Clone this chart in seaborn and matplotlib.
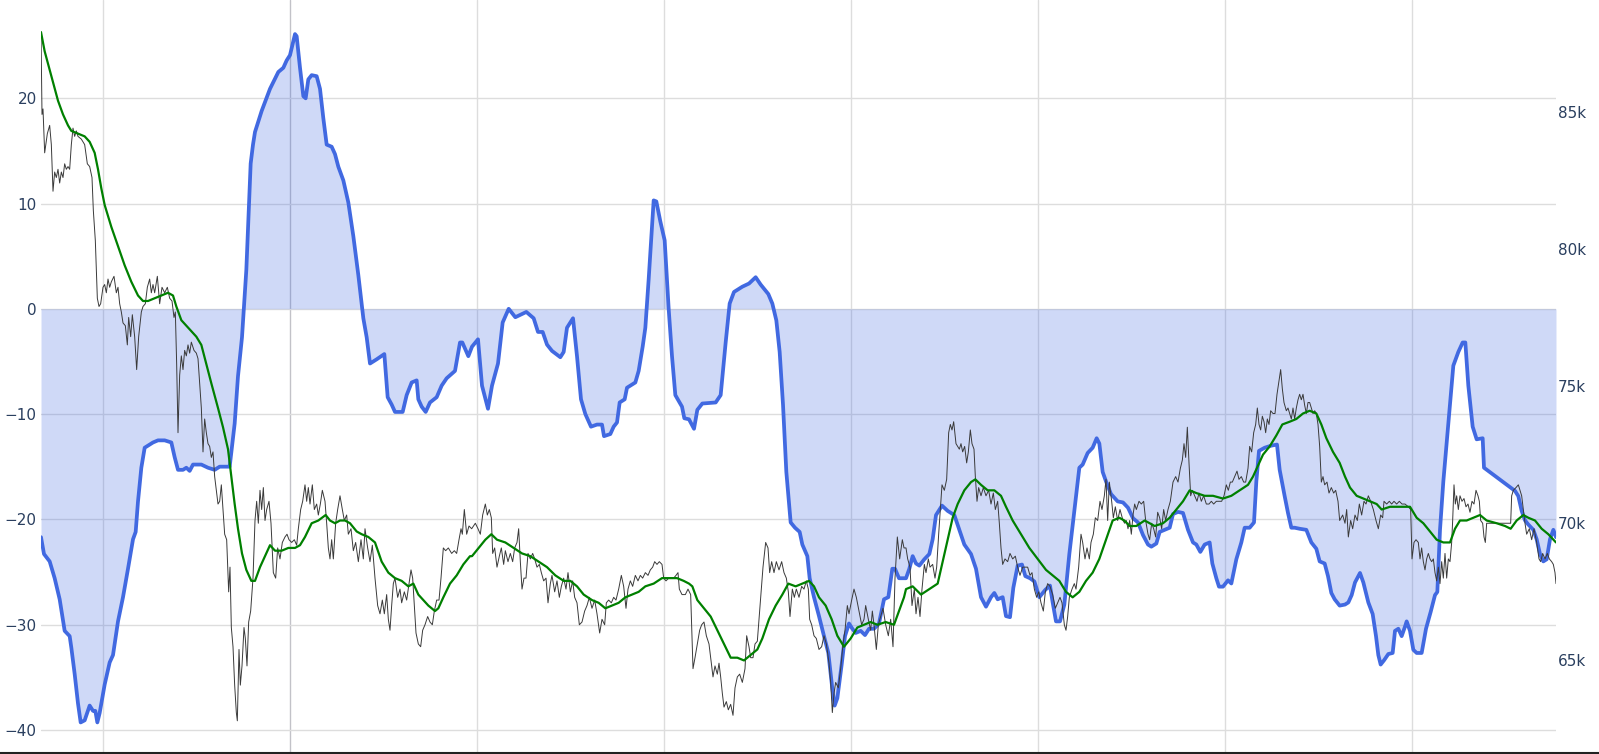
import matplotlib
matplotlib.use("Agg")
import matplotlib.pyplot as plt
import seaborn as sns
import numpy as np

# ---------------- data ----------------
# time index (arbitrary sampling ticks, one day = 561 ticks)
blue_t = [
    0, 9, 26, 41, 56, 71, 86, 91, 101, 111,
    119, 131, 146, 156, 163, 169, 176, 191, 206, 216,
    231, 246, 261, 276, 284, 291, 301, 311, 321, 336,
    351, 371, 391, 401, 411, 426, 436, 446, 456, 481,
    501, 521, 536, 551, 566, 581, 591, 603, 616, 629,
    636,
    642, 662, 687, 712, 727, 737, 747, 762, 767, 777,
    787, 794, 802, 812, 827, 837, 847, 857, 872, 882,
    892, 907, 922, 937, 952, 967, 977, 987, 1007, 1030,
    1040, 1052, 1062, 1085, 1097, 1112, 1127, 1132, 1142, 1154,
    1167, 1187, 1202, 1217, 1242, 1257, 1264, 1282,
    1293, 1311, 1323, 1341, 1353, 1371, 1385, 1403, 1423, 1456,
    1478, 1491, 1505, 1518, 1533, 1558, 1568, 1578, 1596, 1608,
    1620, 1633, 1650, 1668, 1683, 1689, 1708, 1718, 1728, 1736,
    1751, 1758, 1783, 1793, 1805, 1813, 1823, 1838, 1846, 1858,
    1871, 1883, 1893, 1903, 1923, 1930,
    1944, 1959, 1969, 1984, 2024, 2039, 2054, 2066, 2079, 2104,
    2124, 2144, 2159, 2182, 2194, 2206, 2216, 2226, 2236, 2249,
    2262, 2276, 2284, 2299, 2306, 2319, 2334, 2349, 2362, 2374,
    2381, 2389, 2402, 2412, 2424, 2434, 2444, 2459, 2472, 2484,
    2499, 2514, 2529, 2542, 2554, 2562, 2574,
    2595, 2605, 2615, 2625, 2635, 2650, 2665, 2675, 2685, 2703,
    2720, 2740, 2755, 2770, 2790, 2805, 2820, 2835, 2850, 2860,
    2870, 2885, 2895, 2907, 2917, 2930, 2943, 2953, 2967, 2980,
    2995, 3013, 3027, 3035, 3045, 3057, 3070, 3085, 3100, 3115,
    3125, 3140, 3155, 3167, 3175, 3185, 3195, 3210, 3230,
    3246, 3261, 3276, 3291, 3306, 3321, 3331, 3346, 3356, 3371,
    3386, 3396, 3411, 3426, 3441, 3456, 3466, 3478, 3491, 3506,
    3514, 3526, 3534, 3546, 3561, 3571, 3586, 3601, 3611, 3626,
    3639, 3646, 3654, 3671, 3691, 3708, 3716, 3731, 3741, 3751,
    3761, 3776, 3796, 3811, 3826, 3836, 3851, 3861, 3871, 3881,
    3896,
    3912, 3922, 3932, 3942, 3957, 3967, 3982, 3995, 4005, 4012,
    4019, 4029, 4042, 4055, 4062, 4072, 4082, 4092, 4097, 4107,
    4117, 4127, 4142, 4155, 4169, 4182, 4189, 4197, 4207, 4222,
    4237, 4252, 4265, 4273, 4282, 4295, 4307, 4325, 4329, 4422,
    4432, 4442, 4452, 4462, 4477, 4487, 4497, 4507, 4517, 4527,
    4537, 4545,
]
blue_v = [
    -21.7, -23.3, -24.0, -25.6, -27.6, -30.6, -31.1, -32.2, -34.7, -37.5,
    -39.3, -39.1, -37.7, -38.2, -38.2, -39.3, -38.4, -35.7, -33.6, -32.9,
    -29.7, -27.4, -24.7, -21.9, -21.2, -18.3, -15.1, -13.2, -13.0, -12.7,
    -12.5, -12.5, -12.7, -14.1, -15.3, -15.3, -15.1, -15.4, -14.8, -14.8,
    -15.1, -15.3, -15.0, -15.0, -15.0, -10.9, -6.4, -2.7, 3.7, 13.8,
    15.6,
    16.8, 18.8, 20.9, 22.5, 22.9, 23.6, 24.1, 26.1, 25.9, 22.9,
    20.2, 20.0, 21.8, 22.2, 22.1, 20.9, 18.1, 15.6, 15.4, 14.7,
    13.5, 12.2, 10.1, 6.9, 3.2, -0.9, -2.7, -5.2, -4.8, -4.3,
    -8.4, -9.1, -9.8, -9.8, -8.2, -7.0, -6.8, -8.6, -9.3, -9.8,
    -8.9, -8.4, -7.3, -6.6, -5.9, -3.2, -3.2, -4.5,
    -3.6, -2.9, -7.3, -9.5, -7.3, -5.2, -1.3, 0.0, -0.8, -0.3,
    -0.9, -2.2, -2.2, -3.4, -4.0, -4.6, -4.1, -1.8, -0.9, -4.5,
    -8.6, -10.0, -11.2, -11.0, -11.0, -12.1, -11.9, -11.2, -10.8, -8.9,
    -8.6, -7.5, -7.0, -5.9, -3.6, -1.8, 2.8, 10.3, 10.2, 8.3,
    6.5, 0.0, -4.5, -8.2, -9.3, -10.4,
    -10.5, -11.4, -9.6, -9.0, -8.9, -8.2, -3.2, 0.5, 1.6, 2.1,
    2.4, 3.0, 2.3, 1.4, 0.5, -1.1, -4.1, -9.1, -15.5, -20.3,
    -20.8, -21.2, -22.4, -23.5, -25.6, -27.4, -29.2, -31.1, -32.7, -36.1,
    -37.7, -37.0, -33.8, -31.1, -29.9, -30.4, -30.8, -30.6, -31.0, -30.4,
    -30.4, -29.9, -27.6, -27.4, -24.7, -24.7, -25.6,
    -25.6, -24.7, -23.5, -24.2, -24.4, -23.8, -23.3, -21.9, -19.6, -18.7,
    -19.2, -19.6, -21.0, -22.4, -23.3, -24.7, -27.4, -28.3, -27.4, -27.0,
    -27.6, -27.4, -29.2, -29.3, -26.5, -24.4, -24.3, -25.4, -25.6, -25.9,
    -27.4, -26.7, -26.3, -27.9, -29.7, -29.7, -28.1, -23.3, -19.2, -15.1,
    -14.8, -13.7, -13.2, -12.3, -12.8, -15.5, -16.4, -17.6, -18.3,
    -18.4, -18.9, -19.9, -20.3, -21.5, -22.4, -22.6, -22.3, -21.2, -21.0,
    -20.8, -19.5, -19.3, -19.4, -21.0, -22.2, -22.4, -23.1, -22.4, -22.2,
    -24.2, -25.6, -26.4, -26.4, -25.8, -26.1, -23.8, -22.2, -20.8, -20.8,
    -20.3, -16.4, -13.5, -13.2, -13.0, -12.9, -15.3, -17.8, -19.4, -20.8,
    -20.8, -20.9, -21.0, -22.2, -22.8, -24.0, -24.2, -25.4, -27.0, -27.6,
    -28.2,
    -28.1, -27.9, -27.2, -26.0, -25.1, -26.0, -27.9, -29.0, -31.1, -32.9,
    -33.8, -33.4, -32.8, -32.7, -30.6, -30.4, -31.1, -30.2, -29.7, -30.6,
    -32.4, -32.7, -32.7, -30.4, -28.8, -27.2, -26.9, -21.0, -16.4, -10.9,
    -5.4, -4.1, -3.2, -3.2, -7.3, -11.2, -12.4, -12.3, -15.1, -17.3,
    -17.8, -19.2, -20.1, -20.5, -21.0, -21.9, -23.3, -24.0, -23.8, -21.9,
    -21.0, -21.7,
]

# moving average of price (thousands)
ma_t = [
    0, 11, 31, 51, 66, 81, 91, 111, 131, 146,
    161, 171, 181, 191, 211, 231, 251, 271, 291, 306,
    321, 341, 361, 381, 396, 406, 421, 436, 451, 466,
    481, 496, 511, 531, 546, 561, 571, 581, 591, 603,
    616, 631,
    642, 657, 672, 687, 702, 722, 742, 762, 777, 792,
    812, 832, 854, 867, 882, 897, 912, 927, 947, 962,
    982, 1002, 1022, 1042, 1062, 1082, 1102, 1117, 1132, 1147,
    1162, 1182, 1192, 1207, 1227, 1247, 1267, 1287,
    1293, 1313, 1333, 1351, 1368, 1393, 1418, 1443, 1468, 1493,
    1518, 1543, 1568, 1588, 1608, 1628, 1653, 1673, 1693, 1713,
    1733, 1753, 1773, 1793, 1813, 1838, 1863, 1883, 1908, 1928,
    1944, 1954, 1969, 1989, 2009, 2029, 2049, 2069, 2089, 2109,
    2129, 2149, 2164, 2184, 2204, 2224, 2242, 2264, 2284, 2304,
    2319, 2334, 2354, 2372, 2389, 2409, 2429, 2449, 2469, 2489,
    2509, 2534, 2559, 2574, 2589,
    2595, 2615, 2640, 2665, 2690, 2705, 2720, 2735, 2750, 2770,
    2790, 2803, 2820, 2840, 2860, 2880, 2895, 2915, 2940, 2965,
    2990, 3015, 3035, 3055, 3075, 3095, 3115, 3135, 3155, 3175,
    3195, 3215, 3235,
    3250, 3266, 3286, 3311, 3341, 3366, 3386, 3406, 3426, 3446,
    3466, 3491, 3516, 3546, 3571, 3596, 3621, 3636, 3651, 3666,
    3686, 3706, 3724, 3746, 3766, 3786, 3806, 3826, 3841, 3856,
    3876, 3896,
    3912, 3927, 3947, 3967, 3987, 4007, 4022, 4047, 4072, 4087,
    4107, 4127, 4147, 4167, 4187, 4207, 4227, 4242, 4257, 4277,
    4297, 4317, 4337, 4367, 4392, 4409, 4427, 4447, 4462, 4482,
    4502, 4522, 4545,
]
ma_v = [
    87.9, 87.2, 86.3, 85.4, 84.9, 84.5, 84.3, 84.2, 84.1, 83.9,
    83.5, 82.9, 82.2, 81.6, 80.8, 80.1, 79.4, 78.8, 78.3, 78.1,
    78.1, 78.2, 78.3, 78.4, 78.3, 77.9, 77.4, 77.2, 77.0, 76.8,
    76.5, 75.8, 75.1, 74.2, 73.5, 72.7, 71.7, 70.7, 69.8, 68.9,
    68.3, 67.9,
    67.9, 68.4, 68.8, 69.2, 69.0, 69.0, 69.1, 69.1, 69.2, 69.5,
    70.0, 70.1, 70.3, 70.1, 70.0, 70.1, 70.1, 70.0, 69.7, 69.6,
    69.5, 69.3, 68.6, 68.2, 68.0, 67.9, 67.7, 67.8, 67.4, 67.2,
    67.0, 66.8, 66.9, 67.3, 67.8, 68.1, 68.5, 68.8,
    68.8, 69.1, 69.4, 69.6, 69.4, 69.3, 69.1, 68.9, 68.8, 68.6,
    68.4, 68.1, 67.9, 67.9, 67.7, 67.4, 67.2, 67.1, 66.9, 67.0,
    67.1, 67.3, 67.4, 67.5, 67.7, 67.8, 68.0, 68.0, 68.0, 67.9,
    67.8, 67.7, 67.2, 66.9, 66.6, 66.1, 65.6, 65.1, 65.1, 65.0,
    65.2, 65.4, 65.8, 66.5, 67.0, 67.4, 67.8, 67.7, 67.8, 67.9,
    67.7, 67.3, 67.0, 66.5, 65.9, 65.5, 65.8, 66.2, 66.3, 66.4,
    66.3, 66.4, 66.3, 66.8, 67.3,
    67.6, 67.7, 67.4, 67.6, 67.8, 68.6, 69.4, 70.2, 70.7, 71.2,
    71.5, 71.6, 71.4, 71.2, 71.2, 71.0, 70.6, 70.1, 69.6, 69.1,
    68.7, 68.3, 68.1, 67.9, 67.5, 67.3, 67.5, 67.9, 68.2, 68.7,
    69.4, 70.1, 70.2,
    70.1, 69.9, 69.9, 70.1, 69.9, 70.0, 70.2, 70.5, 70.8, 71.2,
    71.1, 71.0, 71.0, 70.9, 71.0, 71.2, 71.4, 71.7, 72.1, 72.5,
    72.8, 73.2, 73.6, 73.7, 73.8, 74.0, 74.1, 74.0, 73.6, 73.1,
    72.6, 72.2,
    71.7, 71.3, 71.0, 70.9, 70.8, 70.7, 70.5, 70.6, 70.6, 70.6,
    70.6, 70.2, 70.0, 69.7, 69.4, 69.3, 69.3, 69.8, 70.1, 70.1,
    70.2, 70.3, 70.1, 70.0, 69.9, 69.8, 70.1, 70.3, 70.2, 70.1,
    69.8, 69.6, 69.3,
]

# price (thousands): (time, value)
price_pts = [
    (0, 87.9), (3, 84.9), (6, 85.1), (11, 83.5), (19, 84.2), (26, 84.5), (31, 83.8), (36, 82.1), (41, 82.8), (46, 82.6),
    (51, 82.9), (56, 82.4), (61, 82.8), (66, 82.6), (71, 83.1), (76, 82.9), (81, 83.0), (86, 82.9), (91, 83.8), (96, 84.4),
    (101, 84.1), (106, 84.3), (111, 84.1), (121, 84.0), (131, 83.8), (139, 83.1), (146, 83.0), (153, 82.6), (157, 81.4), (163, 80.3),
    (169, 78.2), (174, 77.9), (179, 78.0), (186, 78.6), (191, 78.7), (196, 78.4), (201, 78.9), (206, 78.6), (211, 78.8), (219, 79.0),
    (226, 78.4), (231, 78.6), (236, 78.0), (241, 77.7), (246, 77.3), (253, 77.2), (259, 76.5), (263, 77.5), (269, 76.8), (274, 77.6),
    (281, 76.8), (287, 75.6), (293, 76.8), (301, 77.7), (306, 77.9), (313, 78.0), (319, 78.6), (326, 78.9), (331, 78.4), (336, 78.7),
    (341, 78.4), (349, 79.0), (356, 78.0), (363, 78.6), (371, 78.4), (379, 78.6), (386, 78.2), (393, 78.1), (399, 77.5), (403, 77.7),
    (407, 75.8), (411, 73.3), (416, 75.4), (421, 76.1), (426, 75.6), (431, 76.3), (436, 76.1), (441, 76.5), (446, 76.2), (451, 76.6),
    (459, 76.3), (466, 76.2), (471, 76.0), (476, 75.1), (481, 74.2), (486, 72.6), (491, 73.8), (496, 73.3), (501, 72.9), (506, 72.8),
    (511, 72.4), (516, 72.6), (521, 71.7), (526, 71.2), (531, 70.7), (536, 70.8), (541, 71.4), (546, 70.5), (551, 69.6), (557, 69.4),
    (563, 67.5), (567, 68.4), (571, 66.2), (576, 65.5), (581, 64.1), (586, 63.1), (589, 62.8), (594, 65.4), (598, 64.1), (603, 64.8),
    (609, 66.2), (613, 65.8), (618, 64.8), (623, 66.4), (629, 66.8), (636, 68.0),
    (642, 70.1), (647, 70.8), (652, 70.0), (657, 71.2), (662, 70.5), (667, 71.3), (672, 70.1), (677, 70.5), (684, 70.8), (690, 70.0),
    (697, 68.2), (704, 68.0), (710, 69.1), (717, 68.7), (724, 69.3), (732, 69.5), (738, 69.6), (744, 69.4), (752, 69.3), (760, 69.4),
    (767, 69.2), (772, 69.8), (779, 70.5), (785, 70.8), (792, 71.4), (797, 70.8), (802, 71.3), (807, 70.7), (814, 71.4), (820, 70.5),
    (827, 70.7), (832, 70.3), (838, 70.7), (844, 71.2), (852, 70.8), (857, 70.0), (862, 69.1), (867, 68.7), (872, 69.4), (877, 68.7),
    (884, 70.0), (890, 70.5), (897, 71.0), (904, 70.5), (910, 70.1), (917, 70.3), (922, 69.6), (930, 69.8), (937, 69.0), (944, 69.3),
    (952, 68.6), (960, 69.4), (967, 68.7), (972, 69.8), (980, 69.1), (987, 68.6), (994, 69.2), (1002, 68.0), (1010, 67.0), (1017, 66.7),
    (1024, 67.2), (1030, 66.7), (1037, 67.4), (1042, 66.5), (1047, 66.1), (1052, 67.0), (1057, 67.8), (1062, 68.0), (1070, 67.3), (1077, 67.6),
    (1082, 67.1), (1090, 67.5), (1097, 67.2), (1104, 67.8), (1110, 68.3), (1115, 68.0), (1120, 67.0), (1125, 66.0), (1132, 65.6), (1139, 65.5),
    (1145, 66.1), (1152, 66.3), (1160, 66.6), (1167, 66.4), (1174, 66.3), (1180, 66.8), (1187, 67.2), (1194, 67.2), (1200, 68.0), (1207, 69.1),
    (1214, 69.0), (1222, 69.1), (1232, 68.9), (1240, 69.0), (1247, 68.9), (1254, 69.4), (1260, 69.8), (1264, 69.6), (1270, 70.5), (1277, 69.6),
    (1284, 69.9), (1292, 69.8),
    (1303, 70.0), (1311, 69.8), (1318, 69.6), (1325, 70.3), (1333, 70.7), (1339, 70.3), (1345, 70.5), (1351, 70.2), (1355, 68.9), (1361, 69.1),
    (1368, 68.4), (1375, 68.8), (1381, 69.1), (1388, 68.5), (1393, 69.0), (1401, 68.6), (1408, 68.9), (1415, 68.6), (1421, 69.1), (1428, 69.3),
    (1433, 69.8), (1438, 68.6), (1443, 67.6), (1449, 68.0), (1455, 68.0), (1461, 68.9), (1468, 68.7), (1475, 68.9), (1481, 68.7), (1488, 68.4),
    (1495, 68.5), (1501, 68.2), (1508, 67.9), (1515, 68.0), (1521, 67.1), (1528, 67.8), (1533, 68.1), (1541, 67.5), (1548, 67.9), (1555, 67.3),
    (1561, 67.7), (1568, 68.0), (1575, 67.6), (1581, 68.2), (1588, 67.5), (1595, 67.9), (1601, 67.3), (1608, 67.1), (1615, 66.3), (1623, 66.4),
    (1631, 66.8), (1638, 67.0), (1645, 67.3), (1653, 66.9), (1661, 67.2), (1668, 66.7), (1676, 66.0), (1683, 66.5), (1691, 66.3), (1696, 67.1),
    (1703, 67.2), (1711, 67.1), (1718, 67.3), (1725, 67.2), (1733, 67.6), (1741, 68.1), (1748, 67.7), (1755, 66.9), (1761, 67.6), (1768, 67.9),
    (1775, 67.7), (1783, 68.1), (1791, 67.9), (1798, 68.1), (1805, 68.0), (1813, 68.2), (1821, 68.1), (1828, 68.3), (1835, 68.4), (1841, 68.6),
    (1848, 68.5), (1855, 68.6), (1863, 68.5), (1868, 68.0), (1875, 67.9), (1883, 68.0), (1891, 68.0), (1898, 68.0), (1905, 68.1), (1911, 68.2),
    (1915, 67.6), (1923, 67.4), (1933, 67.4), (1941, 67.6),
    (1949, 67.4), (1956, 64.7), (1962, 65.1), (1969, 65.6), (1976, 66.1), (1982, 66.3), (1989, 66.4), (1996, 65.9), (2004, 65.6), (2009, 65.1),
    (2016, 64.4), (2022, 64.8), (2029, 64.5), (2034, 64.9), (2039, 64.4), (2044, 63.8), (2049, 63.3), (2056, 63.5), (2062, 63.2), (2069, 63.4),
    (2076, 63.0), (2082, 64.0), (2089, 64.4), (2096, 64.5), (2104, 64.2), (2112, 64.7), (2117, 65.9), (2124, 65.5), (2129, 65.1), (2136, 65.1),
    (2142, 65.6), (2149, 65.7), (2154, 66.5), (2160, 67.5), (2166, 68.4), (2174, 69.3), (2181, 69.1), (2186, 68.2), (2192, 68.6), (2199, 68.2),
    (2206, 68.6), (2214, 68.3), (2222, 68.6), (2229, 68.2), (2236, 68.0), (2242, 67.5), (2247, 66.6), (2254, 67.6), (2260, 67.3), (2266, 67.6),
    (2274, 67.3), (2282, 67.7), (2289, 67.6), (2296, 67.9), (2302, 67.6), (2306, 66.5), (2312, 66.3), (2319, 65.9), (2326, 65.8), (2334, 65.4),
    (2342, 65.5), (2349, 65.9), (2356, 65.6), (2364, 64.9), (2369, 64.2), (2374, 63.1), (2379, 63.8), (2384, 64.2), (2392, 64.0), (2399, 64.7),
    (2406, 65.6), (2412, 66.1), (2419, 67.0), (2424, 66.7), (2432, 67.2), (2439, 67.6), (2446, 67.3), (2454, 66.8), (2462, 66.3), (2469, 66.5),
    (2474, 67.0), (2482, 66.5), (2489, 66.1), (2494, 66.8), (2499, 66.3), (2506, 65.4), (2512, 66.3), (2519, 66.6), (2526, 66.9), (2534, 66.3),
    (2542, 65.9), (2549, 66.5), (2556, 65.5), (2562, 68.0), (2569, 69.5), (2576, 68.7), (2584, 69.4), (2589, 69.1),
    (2595, 69.1), (2600, 68.7), (2607, 68.4), (2613, 67.0), (2620, 67.6), (2625, 66.7), (2631, 67.3), (2637, 66.6), (2643, 67.6), (2650, 68.5),
    (2655, 68.2), (2662, 68.7), (2667, 68.4), (2675, 68.5), (2682, 68.0), (2687, 68.4), (2693, 69.6), (2698, 70.5), (2703, 71.4), (2710, 71.2),
    (2717, 71.6), (2723, 73.3), (2728, 73.6), (2733, 73.4), (2738, 73.7), (2745, 72.9), (2750, 72.8), (2755, 72.7), (2760, 72.9), (2765, 72.6),
    (2771, 72.8), (2777, 72.2), (2782, 72.6), (2788, 73.4), (2793, 72.9), (2799, 72.7), (2803, 71.7), (2808, 70.8), (2813, 71.3), (2820, 71.0),
    (2827, 71.3), (2835, 71.0), (2843, 71.2), (2850, 70.7), (2857, 71.1), (2863, 70.5), (2870, 70.8), (2875, 70.0), (2880, 69.1), (2885, 68.5),
    (2892, 68.7), (2900, 68.6), (2907, 68.9), (2915, 68.7), (2923, 68.8), (2930, 68.4), (2937, 68.1), (2945, 68.4), (2953, 68.4), (2960, 68.4),
    (2967, 68.1), (2973, 68.2), (2980, 67.6), (2987, 67.3), (2993, 67.5), (3000, 67.1), (3007, 66.8), (3013, 67.5), (3020, 67.8), (3027, 67.7),
    (3035, 67.4), (3043, 66.9), (3050, 67.1), (3057, 67.3), (3063, 67.1), (3070, 66.3), (3075, 66.1), (3080, 66.6), (3085, 67.3), (3093, 67.6),
    (3100, 67.8), (3105, 67.6), (3113, 68.4), (3120, 69.6), (3125, 69.3), (3132, 68.7), (3138, 69.1), (3145, 68.7), (3150, 69.3), (3157, 69.6),
    (3163, 70.2), (3170, 70.1), (3177, 70.8), (3183, 70.5), (3190, 71.0), (3195, 71.6), (3200, 70.1), (3205, 71.5), (3212, 70.8), (3217, 70.2),
    (3223, 70.6), (3230, 70.1), (3237, 70.5),
    (3246, 70.1), (3251, 70.0), (3256, 70.1), (3261, 69.8), (3266, 70.1), (3271, 69.6), (3276, 70.3), (3281, 70.7), (3286, 70.5), (3294, 70.8),
    (3301, 70.7), (3308, 70.8), (3314, 70.1), (3321, 69.6), (3326, 69.4), (3332, 70.0), (3338, 69.8), (3344, 69.5), (3350, 70.4), (3356, 70.2),
    (3362, 69.8), (3368, 70.5), (3374, 70.1), (3381, 70.5), (3388, 70.8), (3396, 71.5), (3404, 71.7), (3411, 71.5), (3418, 72.0), (3424, 72.3),
    (3429, 72.9), (3434, 72.4), (3439, 73.5), (3444, 72.2), (3449, 71.0), (3454, 71.2), (3461, 71.0), (3468, 70.8), (3474, 71.1), (3481, 70.8),
    (3488, 71.0), (3496, 70.7), (3504, 70.7), (3511, 70.8), (3518, 70.7), (3526, 70.8), (3534, 70.8), (3542, 70.8), (3549, 71.0), (3556, 71.4),
    (3562, 71.2), (3568, 71.5), (3574, 71.5), (3581, 71.7), (3588, 71.9), (3594, 71.6), (3601, 71.7), (3608, 71.5), (3614, 71.5), (3621, 72.0),
    (3626, 72.8), (3632, 72.6), (3638, 73.3), (3644, 73.6), (3649, 74.2), (3654, 73.6), (3659, 73.4), (3664, 73.9), (3669, 73.7), (3674, 73.3),
    (3679, 73.8), (3684, 73.6), (3689, 74.1), (3696, 74.0), (3702, 74.0), (3708, 74.7), (3714, 75.2), (3719, 75.6), (3724, 74.9), (3729, 74.4),
    (3736, 74.1), (3741, 74.2), (3746, 74.0), (3751, 73.8), (3756, 74.2), (3761, 73.8), (3766, 74.2), (3771, 74.5), (3776, 74.7), (3781, 74.5),
    (3786, 74.7), (3791, 74.3), (3796, 74.0), (3801, 74.4), (3806, 74.4), (3811, 74.2), (3816, 74.0), (3821, 74.1), (3826, 74.0), (3831, 73.6),
    (3836, 72.8), (3841, 71.5), (3846, 71.7), (3851, 71.4), (3858, 71.5), (3864, 71.1), (3871, 71.3), (3878, 71.1), (3884, 71.2), (3891, 70.8),
    (3896, 70.1),
    (3905, 70.3), (3912, 70.0), (3917, 70.5), (3922, 69.5), (3929, 70.1), (3935, 69.8), (3942, 70.3), (3949, 70.1), (3955, 70.7), (3962, 70.3),
    (3969, 70.8), (3975, 70.7), (3982, 71.0), (3989, 70.8), (3997, 70.5), (4005, 70.1), (4012, 69.8), (4019, 70.3), (4025, 70.2), (4029, 70.8),
    (4037, 70.7), (4045, 70.8), (4052, 70.7), (4059, 70.8), (4067, 70.7), (4075, 70.8), (4083, 70.7), (4092, 70.7), (4102, 70.6), (4109, 70.5),
    (4113, 68.7), (4119, 69.3), (4125, 69.4), (4132, 69.3), (4137, 68.7), (4142, 69.1), (4147, 68.6), (4152, 68.3), (4157, 68.7), (4162, 68.9),
    (4167, 68.7), (4172, 68.6), (4177, 68.7), (4182, 68.2), (4187, 67.9), (4192, 68.4), (4197, 67.8), (4202, 68.6), (4207, 68.0), (4212, 68.9),
    (4217, 68.0), (4222, 68.7), (4227, 68.6), (4232, 69.3), (4235, 70.1), (4239, 71.4), (4243, 70.7), (4247, 71.0), (4252, 70.5), (4257, 71.0),
    (4263, 70.8), (4269, 70.9), (4275, 70.6), (4281, 70.7), (4287, 70.4), (4293, 70.8), (4299, 70.7), (4305, 71.2), (4311, 71.0), (4315, 70.8),
    (4319, 70.1), (4325, 70.0), (4329, 69.5), (4333, 69.3), (4337, 70.0), (4409, 70.0), (4412, 71.0), (4417, 71.2), (4425, 71.3), (4432, 71.4),
    (4437, 71.2), (4442, 71.0), (4447, 70.5), (4452, 70.0), (4457, 69.6), (4465, 69.8), (4472, 69.4), (4479, 69.8), (4487, 69.3), (4494, 68.7),
    (4499, 68.6), (4505, 68.9), (4512, 68.7), (4519, 68.9), (4525, 68.7), (4532, 68.6), (4537, 68.5), (4542, 68.2), (4545, 67.8),
]

left_ticks = [-40, -30, -20, -10, 0, 10, 20]
right_ticks = [65, 70, 75, 80, 85]
right_labels = ["65k", "70k", "75k", "80k", "85k"]

# ---------------- styling ----------------
sns.set_theme(style="white")
plt.rcParams["font.family"] = ["DejaVu Sans"]
plt.rcParams["axes.unicode_minus"] = True

TICK_COLOR = "#2a3f5f"
GRID_COLOR = "#dddddd"
BLUE = "#4169e1"

price_t = [p[0] for p in price_pts]
price_v = [p[1] for p in price_pts]

W, H = 1599, 754
fig = plt.figure(figsize=(W / 100, H / 100), dpi=100)
fig.patch.set_facecolor("white")
ax = fig.add_axes([41 / W, 0.0, (1556 - 41) / W, 1.0])
ax.set_facecolor("white")

# day gridlines (one day = 561 ticks, first boundary at tick 185)
day_lines = list(range(185, 4545, 561))

ax.set_xlim(0, 4545)
ax.set_ylim(-42.3, 29.34)
ax.set_xticks(day_lines)
ax.set_yticks(left_ticks)
ax.set_yticklabels([f"{v:d}".replace("-", "\u2212") for v in left_ticks])
ax.grid(True, color=GRID_COLOR, linewidth=1.0)
ax.set_axisbelow(True)
for i, gl in enumerate(ax.get_xgridlines()):
    if i == 1:
        gl.set_color("#c2c2c8")
ax.tick_params(axis="x", length=0, labelbottom=False)
ax.tick_params(axis="y", length=0, pad=3, labelsize=11, labelcolor=TICK_COLOR)
for s in ax.spines.values():
    s.set_visible(False)

# indicator with fill to zero
ax.fill_between(blue_t, blue_v, 0, color=BLUE, alpha=0.25, linewidth=0, zorder=1)
sns.lineplot(x=blue_t, y=blue_v, ax=ax, color=BLUE, linewidth=2.7, estimator=None,
             sort=False, zorder=2)
ax.set_xlabel("")
ax.set_ylabel("")

# price + moving average on right axis
ax2 = ax.twinx()
ax2.set_ylim(61.59, 89.07)
sns.lineplot(x=price_t, y=price_v, ax=ax2, color="#3a3a3a", linewidth=0.7,
             estimator=None, sort=False, zorder=3)
sns.lineplot(x=ma_t, y=ma_v, ax=ax2, color="#008000", linewidth=1.6,
             estimator=None, sort=False, zorder=4)
ax2.set_xlim(0, 4545)
ax2.set_yticks(right_ticks)
ax2.set_yticklabels(right_labels)
ax2.grid(False)
ax2.tick_params(axis="y", length=0, pad=1.5, labelsize=11, labelcolor=TICK_COLOR)
ax2.set_xlabel("")
ax2.set_ylabel("")
for s in ax2.spines.values():
    s.set_visible(False)

# dark border line at the very bottom of the screenshot
fig.add_artist(plt.Line2D([0, 1], [1.0 / H, 1.0 / H], transform=fig.transFigure,
                          color="#222222", linewidth=1.5))

fig.savefig("out.png", dpi=100, facecolor="white")
